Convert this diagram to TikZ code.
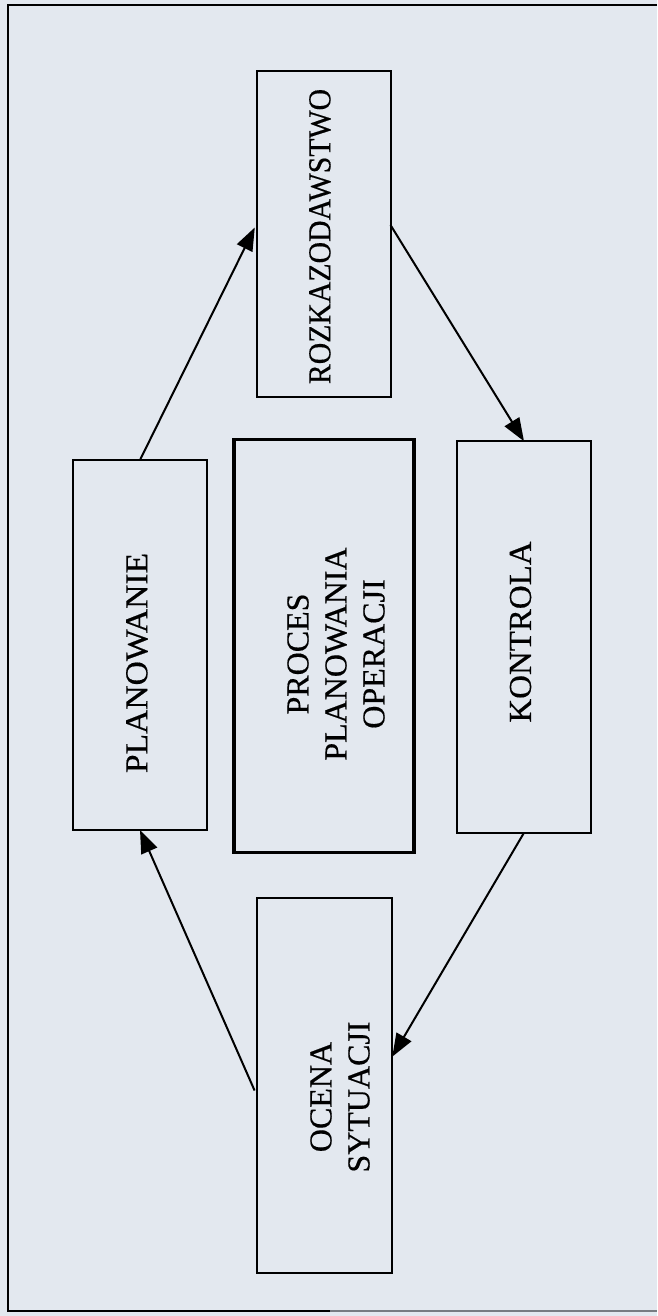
\documentclass[tikz,border=0pt]{standalone}
\usepackage{fontspec}
\setmainfont{Liberation Serif}
\newfontfamily\lblfont{Liberation Serif}[FakeBold=0.45]
\usetikzlibrary{arrows.meta,calc}
\definecolor{paper}{RGB}{227,232,239}
\definecolor{inkfade}{RGB}{120,124,130}
\begin{document}
\begin{tikzpicture}[x=1pt,y=-1pt,
  box/.style={draw=black, line width=2pt, rectangle, inner sep=0pt, outer sep=0pt},
  mainbox/.style={box, line width=3.4pt},
  lbl/.style={rotate=90, align=center, inner sep=0pt,
    font=\lblfont\fontsize{32}{38}\selectfont},
  flow/.style={line width=2pt, -{Triangle[length=23pt,width=17pt]}}
]
% page and frame
\path[use as bounding box, fill=paper] (0,0) rectangle (657,1316);
\coordinate (ftr) at (657,5);
\coordinate (ftl) at (8,5);
\coordinate (fbl) at (8,1311);
\coordinate (fbm) at (330,1311);
\coordinate (fbr) at (657,1311);
\draw[line width=2.6pt] (ftr) -- (ftl) -- (fbl) -- (fbm);
\draw[line width=2.2pt, inkfade] (fbm) -- (fbr);

% boxes
\node[box, minimum width=133.5pt, minimum height=326pt] (rk) at (323.75,234) {};
\node[box, minimum width=133.3pt, minimum height=370pt] (pl) at (140,645) {};
\node[mainbox, minimum width=180pt, minimum height=413.5pt] (pr) at (324,646) {};
\node[box, minimum width=133.3pt, minimum height=391.5pt] (ko) at (524,637) {};
\node[box, minimum width=134.8pt, minimum height=375pt] (oc) at (324.4,1085.5) {};

% labels
\node[lbl] (rkt) at (320,236.5) {\scalebox{0.93}[1]{ROZKAZODAWSTWO}};
\node[lbl] (plt) at (137,663) {\scalebox{1.05}[1]{PLANOWANIE}};
\node[lbl] (prt) at (336,654) {PROCES\\PLANOWANIA\\OPERACJI};
\node[lbl] (kot) at (520.5,632) {\scalebox{1.03}[1]{KONTROLA}};
\node[lbl] (oct) at (340,1097) {OCENA\\SYTUACJI};

% cycle of connectors
\draw[flow, shorten >=5pt] (pl.north) -- ([yshift=11pt]rk.west);
\draw[flow] ([yshift=9pt]rk.east) -- (ko.north);
\draw[flow, shorten >=1pt] (ko.south) -- ([yshift=28pt]oc.east);
\draw[flow, shorten <=6pt] ([yshift=-10.5pt]oc.west) -- (pl.south);
\end{tikzpicture}
\end{document}
